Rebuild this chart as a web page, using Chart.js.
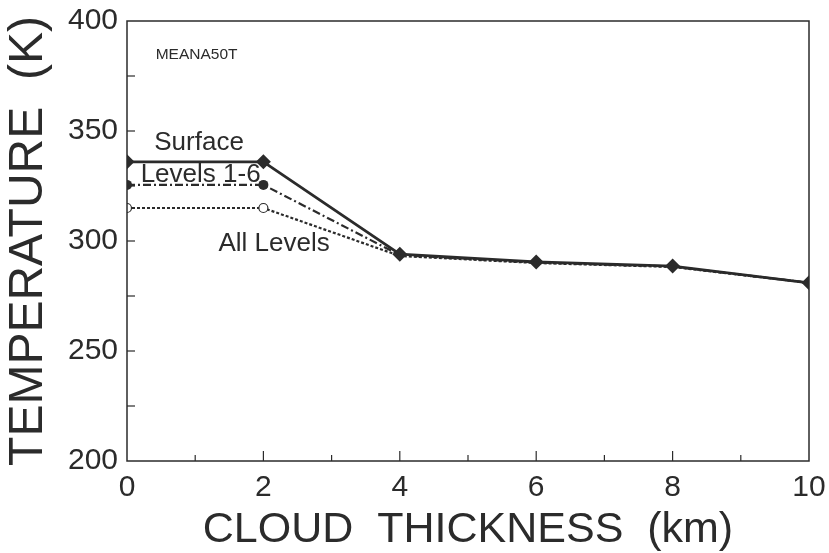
<!DOCTYPE html>
<html>
<head>
<meta charset="utf-8">
<script src="https://cdn.jsdelivr.net/npm/chart.js@4/dist/chart.umd.min.js"></script>
<style>
html,body{margin:0;padding:0;background:#fff;}
#wrap{width:829px;height:553px;}
</style>
</head>
<body>
<div id="wrap"><canvas id="c"></canvas></div>
<script>
var thickness=[0,2,4,6,8,10];
var surface=[336,336,294,290.5,288.6,281];
var levels16=[325.5,325.5,293.6,290.2,288.4,281];
var allLevels=[315,315,293.2,290,288.2,281];
var xTicks=[0,2,4,6,8,10];
var yTicks=[200,250,300,350,400];

var ink="#2b2b2b";
var fam="'Liberation Sans', Arial, sans-serif";

function pts(ys){return thickness.map(function(x,i){return {x:x,y:ys[i]};});}

// inward tick marks, frame and text labels
var decor={
  id:'decor',
  afterDraw:function(chart){
    var ctx=chart.ctx, a=chart.chartArea, xs=chart.scales.x, ys=chart.scales.y;
    ctx.save();
    ctx.strokeStyle=ink;
    ctx.lineWidth=1.5;
    ctx.strokeRect(a.left,a.top,a.right-a.left,a.bottom-a.top);
    ctx.lineWidth=1.2;
    for(var v=1;v<10;v++){
      var px=xs.getPixelForValue(v), len=(v%2==0)?10:6;
      ctx.beginPath();ctx.moveTo(px,a.bottom);ctx.lineTo(px,a.bottom-len);ctx.stroke();
    }
    for(var t=225;t<400;t+=25){
      var py=ys.getPixelForValue(t);
      ctx.beginPath();ctx.moveTo(a.left,py);ctx.lineTo(a.left+8,py);ctx.stroke();
    }
    ctx.fillStyle=ink;
    ctx.textBaseline='middle';
    ctx.textAlign='left';
    ctx.font="15.5px "+fam;
    ctx.fillText("MEANA50T",xs.getPixelForValue(0.42),ys.getPixelForValue(384.5));
    ctx.font="26px "+fam;
    ctx.fillText("Surface",xs.getPixelForValue(0.4),ys.getPixelForValue(344.8));
    ctx.fillText("Levels 1-6",xs.getPixelForValue(0.2),ys.getPixelForValue(329.9));
    ctx.fillText("All Levels",xs.getPixelForValue(1.34),ys.getPixelForValue(298.9));
    ctx.restore();
  }
};

new Chart(document.getElementById('c'),{
  type:'line',
  data:{
    datasets:[
      {label:'All Levels',data:pts(allLevels),borderColor:ink,borderWidth:2.2,borderDash:[3,2],
       pointStyle:'circle',pointRadius:[4.5,4.5,0,0,0,0],pointBackgroundColor:'#fff',pointBorderColor:ink,pointBorderWidth:1.2,clip:0},
      {label:'Levels 1-6',data:pts(levels16),borderColor:ink,borderWidth:2.2,borderDash:[8,3,2,3],
       pointStyle:'circle',pointRadius:[5,5,0,0,0,0],pointBackgroundColor:ink,pointBorderColor:ink,pointBorderWidth:0,clip:0},
      {label:'Surface',data:pts(surface),borderColor:ink,borderWidth:2.8,
       pointStyle:'rectRot',pointRadius:7.5,pointBackgroundColor:ink,pointBorderColor:ink,pointBorderWidth:0,clip:0}
    ]
  },
  options:{
    responsive:true,maintainAspectRatio:false,animation:false,
    layout:{padding:{top:21,right:20,left:0,bottom:0}},
    plugins:{legend:{display:false},tooltip:{enabled:false}},
    scales:{
      x:{type:'linear',min:0,max:10,
        afterBuildTicks:function(s){s.ticks=xTicks.map(function(v){return {value:v};});},
        afterFit:function(s){s.height=92;s.paddingLeft=0;s.paddingRight=0;},
        grid:{display:false,drawTicks:false},border:{display:false},
        ticks:{color:ink,font:{family:fam,size:30},padding:9},
        title:{display:true,text:'CLOUD  THICKNESS  (km)',color:ink,font:{family:fam,size:43,lineHeight:1.05},padding:{top:0,bottom:0}}
      },
      y:{type:'linear',min:200,max:400,
        afterBuildTicks:function(s){s.ticks=yTicks.map(function(v){return {value:v};});},
        afterFit:function(s){s.width=127;s.paddingTop=0;s.paddingBottom=0;},
        grid:{display:false,drawTicks:false},border:{display:false},
        ticks:{color:ink,font:{family:fam,size:30},padding:9},
        title:{display:true,text:'TEMPERATURE  (K)',color:ink,font:{family:fam,size:48},padding:{top:0,bottom:0}}
      }
    }
  },
  plugins:[decor]
});
</script>
</body>
</html>
